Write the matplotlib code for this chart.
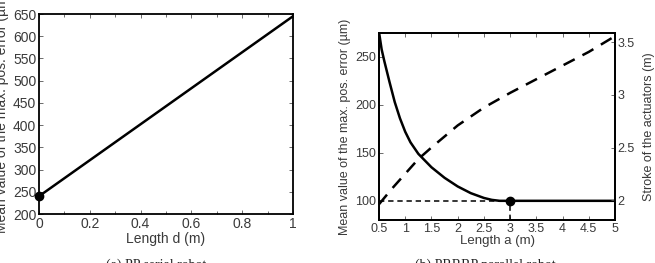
import matplotlib
matplotlib.use("Agg")
import matplotlib.pyplot as plt
import numpy as np

# ---- data ----
# (a) PP serial robot
d_len = [0.0, 1.0]
err_a = [240, 645]
opt_d = 0.0
opt_err_a = 240

# (b) PRRRP parallel robot
a_len = [0.5, 0.55, 0.6, 0.7, 0.8, 0.9, 1.0, 1.1, 1.25, 1.5, 1.75, 2.0, 2.25, 2.5,
         2.65, 2.8, 3.0, 3.5, 4.0, 4.5, 5.0]
err_b = [276, 258, 246, 224, 203, 186, 172, 161, 149, 135, 124, 115, 108, 103,
         101, 100, 100, 100, 100, 100, 100]
a_stroke = [0.5, 0.75, 1.0, 1.25, 1.5, 2.0, 2.5, 3.0, 3.5, 4.0, 4.5, 5.0]
stroke = [1.96, 2.11, 2.25, 2.39, 2.5, 2.71, 2.88, 3.02, 3.15, 3.28, 3.41, 3.56]
opt_a = 3.0
opt_err_b = 100

xticks_a = [0, 0.2, 0.4, 0.6, 0.8, 1]
xticklabels_a = ["0", "0.2", "0.4", "0.6", "0.8", "1"]
yticks_a = list(range(200, 651, 50))
xticks_b = [0.5, 1, 1.5, 2, 2.5, 3, 3.5, 4, 4.5, 5]
xticklabels_b = ["0.5", "1", "1.5", "2", "2.5", "3", "3.5", "4", "4.5", "5"]
yticks_b = [100, 150, 200, 250]
yticks_b2 = [2, 2.5, 3, 3.5]
yticklabels_b2 = ["2", "2.5", "3", "3.5"]

plt.rcParams['font.family'] = ['Liberation Sans', 'DejaVu Sans']
TXT = '#3a3a3a'

W, H = 655, 263
fig = plt.figure(figsize=(W / 100, H / 100), dpi=100)

def px_axes(l, t, r, b):
    return fig.add_axes([l / W, 1 - b / H, (r - l) / W, (b - t) / H])

# ---- panel (a) ----
ax1 = px_axes(39, 14, 293, 214)
ax1.plot(d_len, err_a, color='black', lw=1.8)
ax1.plot([opt_d], [opt_err_a], 'o', color='black', ms=6, clip_on=False, zorder=5)
ax1.set_xlim(0, 1)
ax1.set_ylim(200, 650)
ax1.set_xticks(xticks_a)
ax1.set_xticklabels(xticklabels_a)
ax1.set_xticks(np.arange(0, 1.01, 0.1), minor=True)
ax1.set_yticks(yticks_a)
ax1.tick_params(which='both', direction='in', top=True, right=True, labelsize=10,
                labelcolor=TXT, pad=2, width=0.6, color='#555555')
ax1.tick_params(which='major', length=3)
ax1.tick_params(which='minor', length=2)
ax1.set_xlabel("Length d (m)", fontsize=10, color=TXT, labelpad=1)
for s in ax1.spines.values():
    s.set_linewidth(1.3)
fig.text(2.5 / W, 1 - 112 / H, "Mean value of the max. pos. error (\u00b5m)", rotation=90,
         fontsize=10, color=TXT, ha='center', va='center')

# ---- panel (b) ----
ax2 = px_axes(379, 33, 615, 220)
ax2.plot(a_len, err_b, color='black', lw=1.8, zorder=3)
ax2.plot([a_len[0], opt_a], [opt_err_b, opt_err_b], color='black', lw=1.1,
         dashes=(3.5, 2.5), zorder=2)
ax2.plot([opt_a, opt_a], [80, opt_err_b], color='black', lw=1.1, dashes=(3.5, 2.5), zorder=2)
ax2.plot([opt_a], [opt_err_b], 'o', color='black', ms=6, zorder=5)
ax2.set_xlim(0.5, 5)
ax2.set_ylim(80, 275)
ax2.set_xticks(xticks_b)
ax2.set_xticklabels(xticklabels_b)
ax2.set_yticks(yticks_b)
ax2.tick_params(direction='in', top=True, labelsize=9, labelcolor=TXT, pad=2,
                length=3, width=0.6, color='#555555')
ax2.set_xlabel("Length a (m)", fontsize=9.5, color=TXT, labelpad=0)
ax2.set_ylabel("Mean value of the max. pos. error (\u00b5m)", fontsize=9, color=TXT, labelpad=3)
for s in ax2.spines.values():
    s.set_linewidth(1.3)

ax3 = ax2.twinx()
ax3.plot(a_stroke, stroke, color='black', lw=1.8, dashes=(5, 3.5))
ax3.set_ylim(1.81, 3.59)
ax3.set_yticks(yticks_b2)
ax3.set_yticklabels(yticklabels_b2)
ax3.tick_params(direction='in', labelsize=9, labelcolor=TXT, pad=2, length=3,
                width=0.6, color='#555555')
ax3.set_ylabel("Stroke of the actuators (m)", fontsize=9, color=TXT, labelpad=6)
for s in ax3.spines.values():
    s.set_linewidth(1.3)

# captions (cut at the bottom edge, as in the reference)
fig.text(156 / W, 1 - 259 / H, "(a) PP serial robot", family='Liberation Serif',
         fontsize=10, color='#222222', ha='center', va='top')
fig.text(485 / W, 1 - 259 / H, "(b) PRRRP parallel robot", family='Liberation Serif',
         fontsize=10, color='#222222', ha='center', va='top')

fig.savefig("out.png", dpi=100)
